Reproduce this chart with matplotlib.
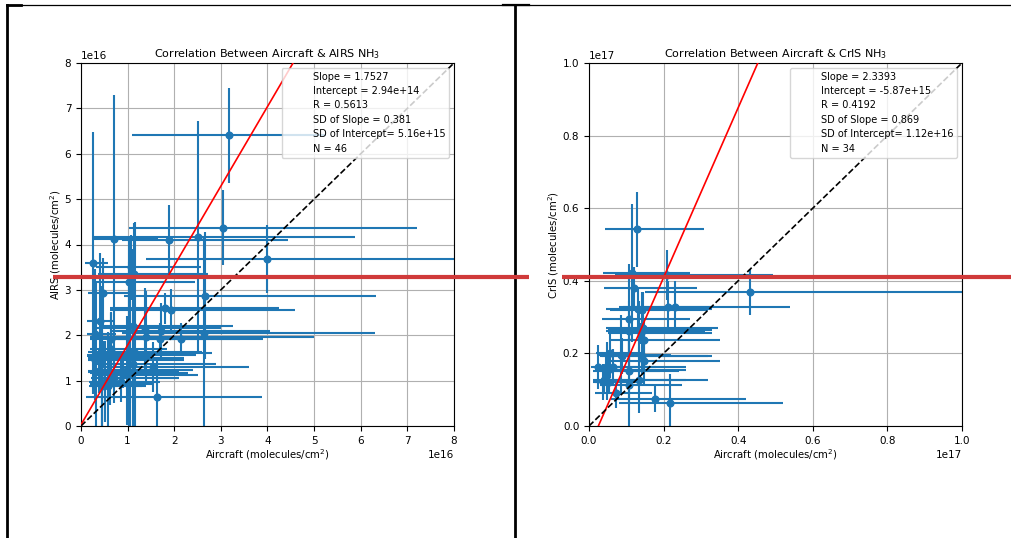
import numpy as np
import matplotlib
matplotlib.use("Agg")
import matplotlib.pyplot as plt
from matplotlib.lines import Line2D

# values in units of 1e16 molecules/cm^2
# AIRS panel: x, y, left end of x-bar, right end of x-bar, y error
airs_x = [3.17, 0.71, 1.88, 2.50, 3.04, 3.99, 0.25, 1.07, 1.14, 1.03, 0.47, 2.67, 1.81, 1.94, 0.40,
          1.12, 1.37, 0.31, 0.64, 1.40, 1.69, 1.72, 2.14, 2.64, 0.65, 0.33, 0.44, 1.04, 1.15, 1.54,
          1.12, 0.44, 0.62, 0.86, 0.51, 0.44, 0.59, 1.63, 0.99, 0.70, 0.38, 0.90, 0.48, 1.05, 0.57, 0.30]
airs_y = [6.41, 4.13, 4.09, 4.16, 4.37, 3.68, 3.60, 3.50, 3.34, 3.18, 2.94, 2.87, 2.59, 2.56, 2.31,
          2.20, 2.15, 2.02, 1.91, 1.97, 1.91, 2.10, 1.91, 2.06, 1.69, 1.55, 1.49, 1.62, 1.60, 1.31,
          1.36, 1.20, 1.16, 0.98, 0.98, 0.88, 0.93, 0.63, 1.23, 1.05, 1.22, 1.13, 1.57, 1.20, 0.88, 1.45]
airs_xlo = [1.09, 0.23, 0.87, 0.23, 1.04, 1.40, 0.09, 0.33, 0.37, 0.32, 0.16, 0.92, 0.63, 0.63, 0.12,
            0.45, 0.30, 0.12, 0.20, 0.19, 0.60, 0.65, 0.80, 0.87, 0.20, 0.12, 0.15, 0.15, 0.35, 0.45,
            0.35, 0.16, 0.20, 0.25, 0.18, 0.17, 0.20, 0.10, 0.30, 0.22, 0.15, 0.35, 0.12, 0.30, 0.20, 0.14]
airs_xhi = [5.25, 1.66, 4.45, 5.88, 7.20, 8.50, 0.57, 2.57, 2.73, 2.45, 1.00, 6.33, 4.24, 4.58, 0.73,
            3.25, 3.00, 0.75, 2.00, 4.99, 3.40, 4.06, 3.90, 6.31, 1.85, 1.50, 2.20, 2.60, 2.80, 3.60,
            2.90, 1.90, 2.30, 1.70, 1.35, 1.30, 1.55, 3.88, 2.40, 2.10, 1.65, 2.50, 2.47, 2.10, 1.40, 2.20]
airs_yerr = [1.05, 3.17, 0.77, 2.57, 0.83, 0.75, 2.89, 0.72, 1.13, 0.90, 0.77, 1.40, 0.35, 0.47, 1.50,
             1.70, 0.90, 1.45, 0.60, 1.00, 0.35, 0.60, 0.35, 2.10, 0.80, 1.60, 1.60, 2.00, 2.90, 0.55,
             1.40, 1.30, 0.70, 0.45, 0.90, 1.00, 0.40, 0.80, 1.20, 0.55, 0.50, 0.30, 0.30, 2.60, 1.20, 0.20]

# CrIS panel
cris_x = [1.29, 1.14, 2.08, 4.32, 1.21, 2.11, 2.31, 1.31, 1.42, 1.06, 1.08, 1.35, 1.44, 1.48, 0.57,
          0.88, 1.42, 1.48, 0.23, 0.46, 0.64, 1.06, 0.41, 0.54, 1.06, 1.33, 0.72, 1.77, 2.17, 0.48,
          0.37, 0.50, 1.40, 0.86]
cris_y = [5.42, 4.22, 4.16, 3.69, 3.79, 3.29, 3.29, 3.21, 3.20, 2.95, 2.63, 2.64, 2.69, 2.37, 2.02,
          1.93, 1.93, 1.80, 1.62, 1.62, 1.63, 1.52, 1.27, 1.22, 1.13, 1.27, 0.90, 0.74, 0.64, 1.52,
          1.22, 1.55, 2.55, 1.95]
cris_xlo = [0.43, 0.38, 0.71, 1.51, 0.40, 0.80, 0.90, 0.45, 0.55, 0.35, 0.45, 0.50, 0.45, 0.55, 0.20,
            0.30, 0.35, 0.45, 0.05, 0.10, 0.20, 0.30, 0.10, 0.15, 0.30, 0.40, 0.15, 0.60, 0.80, 0.10,
            0.10, 0.15, 0.50, 0.25]
cris_xhi = [3.07, 2.70, 4.92, 11.0, 2.90, 5.40, 3.30, 3.30, 3.20, 2.70, 3.10, 3.30, 3.45, 3.50, 1.50,
            3.30, 3.20, 3.50, 0.90, 1.80, 2.60, 2.40, 2.60, 1.10, 2.50, 3.20, 1.70, 4.20, 5.20, 1.90,
            1.50, 2.60, 3.30, 2.20]
cris_yerr = [1.04, 1.90, 0.70, 0.63, 0.60, 0.70, 0.70, 0.60, 0.50, 1.50, 0.80, 0.80, 1.00, 0.50, 0.70,
             0.50, 0.50, 0.70, 0.60, 0.40, 0.50, 0.90, 0.35, 0.30, 1.30, 0.90, 0.40, 0.35, 0.80, 0.80,
             0.50, 0.40, 0.30, 1.10]

panels = [
    dict(name="AIRS", x=airs_x, y=airs_y, xlo=airs_xlo, xhi=airs_xhi, yerr=airs_yerr,
         slope=1.7527, icpt=2.94e14, r=0.5613, sds=0.381, sdi="5.16e+15", lim=8e16, left=81),
    dict(name="CrIS", x=cris_x, y=cris_y, xlo=cris_xlo, xhi=cris_xhi, yerr=cris_yerr,
         slope=2.3393, icpt=-5.87e15, r=0.4192, sds=0.869, sdi="1.12e+16", lim=1e17, left=589),
]

W, H = 1012, 538
fig = plt.figure(figsize=(W / 100, H / 100), dpi=100)

for p in panels:
    ax = fig.add_axes([p["left"] / W, 1 - 426 / H, 373 / W, 363 / H])
    x = np.array(p["x"]) * 1e16
    y = np.array(p["y"]) * 1e16
    xerr = np.vstack([x - np.array(p["xlo"]) * 1e16, np.array(p["xhi"]) * 1e16 - x])
    yerr = np.array(p["yerr"]) * 1e16
    ax.errorbar(x, y, xerr=xerr, yerr=yerr, fmt='o', color='C0', ms=4.8, elinewidth=1.5, zorder=2)
    lim = p["lim"]
    xx = np.linspace(0, lim, 100)
    ax.plot(xx, p["slope"] * xx + p["icpt"], 'r-', lw=1.2, zorder=3)
    ax.plot([0, lim], [0, lim], 'k--', lw=1.2, zorder=3)
    ax.set_xlim(0, lim)
    ax.set_ylim(0, lim)
    ax.grid(True)
    labels = ["Slope = %.4f" % p["slope"],
              "Intercept = %.2e" % p["icpt"],
              "R = %.4f" % p["r"],
              "SD of Slope = %.3f" % p["sds"],
              "SD of Intercept= " + p["sdi"],
              "N = %d" % len(p["x"])]
    for lab in labels:
        ax.plot([], [], ' ', label=lab)
    ax.legend(loc='upper right', fontsize=7, labelspacing=0.45)
    ax.set_title("Correlation Between Aircraft & %s NH$_3$" % p["name"], fontsize=8, pad=4)
    ax.set_xlabel("Aircraft (molecules/cm$^2$)", fontsize=7.3, labelpad=1)
    ax.set_ylabel("%s (molecules/cm$^2$)" % p["name"], fontsize=7.3, labelpad=1)
    ax.tick_params(labelsize=7.5, length=3.5)
    ax.xaxis.get_offset_text().set_fontsize(7.5)
    ax.yaxis.get_offset_text().set_fontsize(7.5)

# black frame around the two panels
def px_line(x0, y0, x1, y1, **kw):
    fig.add_artist(Line2D([x0 / W, x1 / W], [1 - y0 / H, 1 - y1 / H], **kw))

px_line(7, 5, 1012, 5, color='k', lw=0.9)
px_line(7, 5, 21, 5, color='k', lw=2)
px_line(503, 5, 529, 5, color='k', lw=1.6)
px_line(7, 5, 7, 538, color='k', lw=2)
px_line(515, 5, 515, 538, color='k', lw=2)

# red marker lines
px_line(53, 277, 529, 277, color='#d03a3a', lw=3, solid_capstyle='butt')
px_line(562, 277, 1012, 277, color='#d03a3a', lw=3, solid_capstyle='butt')

fig.savefig("out.png", dpi=100)
